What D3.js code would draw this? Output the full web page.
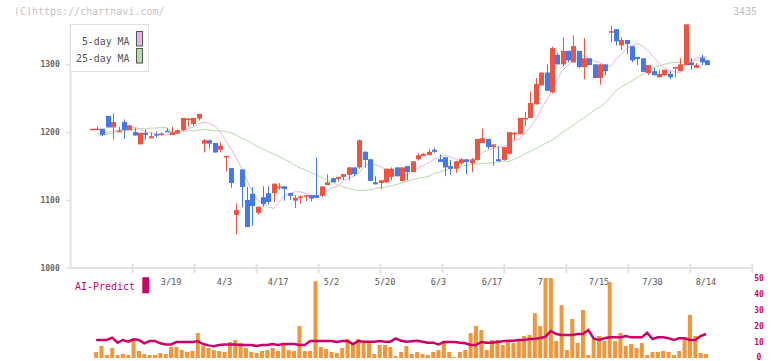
<!DOCTYPE html>
<html>
<head>
<meta charset="utf-8">
<script src="https://cdn.jsdelivr.net/npm/d3@7"></script>
<style>
  body { margin: 0; background: #fff; }
  text { font-family: "DejaVu Sans Mono", "Liberation Mono", monospace; }
</style>
</head>
<body>
<div id="chart"></div>
<script>
// daily candles, 2/26 .. 8/14 (116 trading days)
const openP = [1205,1204,1205,1224,1207,1200,1215,1203,1200,1182,
  1199,1191,1197,1196,1202,1196,1198,1203,1219,1212,
  1220,1183,1188,1184,1174,1163,1147,1078,1145,1100,
  1109,1081,1104,1110,1110,1119,1120,1110,1099,1104,
  1105,1107,1107,1106,1122,1132,1131,1134,1137,1148,
  1148,1171,1160,1126,1125,1126,1134,1148,1128,1150,
  1141,1160,1165,1166,1174,1160,1163,1150,1146,1154,
  1160,1154,1159,1184,1190,1178,1160,1159,1168,1197,
  1197,1219,1221,1241,1269,1288,1259,1314,1300,1320,
  1303,1320,1296,1309,1300,1280,1300,1348,1352,1328,
  1336,1327,1311,1309,1287,1290,1281,1284,1286,1295,
  1290,1299,1303,1295,1310,1306];
const closeP = [1205,1205,1196,1207,1215,1202,1203,1210,1195,1199,
  1196,1194,1195,1198,1201,1200,1203,1221,1220,1221,
  1227,1188,1183,1170,1180,1165,1125,1085,1119,1060,
  1091,1090,1094,1097,1124,1120,1116,1106,1103,1105,
  1107,1102,1103,1120,1126,1126,1134,1138,1148,1138,
  1188,1159,1128,1123,1129,1146,1146,1135,1148,1141,
  1157,1166,1168,1171,1171,1156,1148,1146,1157,1160,
  1156,1160,1190,1191,1178,1182,1157,1178,1200,1199,
  1221,1221,1243,1271,1288,1261,1324,1300,1320,1306,
  1327,1296,1309,1299,1280,1300,1290,1349,1334,1336,
  1330,1306,1308,1289,1299,1284,1286,1292,1281,1296,
  1300,1359,1299,1299,1303,1299];
const highP = [1205,1208,1205,1224,1228,1208,1219,1211,1206,1199,
  1204,1200,1201,1200,1206,1208,1204,1221,1221,1221,
  1227,1190,1189,1184,1185,1165,1147,1095,1145,1119,
  1119,1090,1120,1120,1124,1125,1120,1110,1107,1107,
  1107,1107,1163,1120,1138,1133,1134,1138,1148,1148,
  1189,1172,1160,1135,1129,1146,1148,1148,1148,1150,
  1157,1169,1169,1175,1177,1167,1163,1159,1157,1162,
  1160,1162,1190,1205,1190,1182,1179,1178,1200,1200,
  1221,1230,1260,1280,1288,1300,1326,1317,1340,1320,
  1343,1320,1339,1309,1300,1300,1300,1357,1352,1340,
  1336,1327,1311,1309,1299,1295,1292,1292,1290,1296,
  1309,1359,1309,1302,1314,1306];
const lowP = [1205,1204,1194,1207,1189,1200,1190,1203,1195,1182,
  1189,1191,1192,1195,1201,1196,1197,1202,1208,1209,
  1217,1170,1176,1170,1170,1142,1118,1049,1089,1060,
  1062,1078,1090,1093,1097,1115,1099,1100,1088,1094,
  1098,1098,1103,1104,1122,1126,1127,1129,1129,1135,
  1146,1148,1128,1123,1116,1125,1129,1135,1127,1129,
  1141,1158,1165,1166,1169,1156,1135,1137,1140,1152,
  1138,1141,1158,1184,1175,1150,1157,1158,1167,1188,
  1197,1209,1221,1241,1269,1261,1257,1300,1297,1303,
  1303,1295,1278,1299,1280,1270,1284,1333,1328,1321,
  1315,1303,1299,1289,1284,1284,1281,1283,1278,1281,
  1290,1299,1292,1295,1299,1299];
const ma5 = [null,1198,1199,1199,1202,1203,1205,1206,1207,1205,
  1201,1199,1197,1196,1196,1197,1199,1202,1205,1208,
  1212,1215,1213,1209,1200,1188,1176,1162,1147,1129,
  1112,1100,1094,1090,1087,1097,1106,1110,1112,1112,
  1110,1107,1106,1109,1114,1118,1120,1128,1132,1135,
  1140,1150,1154,1152,1149,1145,1140,1135,1136,1137,
  1143,1147,1151,1155,1160,1163,1166,1163,1160,1157,
  1157,1157,1162,1170,1173,1176,1178,1179,1182,1188,
  1190,1199,1208,1219,1234,1247,1261,1278,1291,1299,
  1305,1311,1313,1309,1305,1302,1299,1297,1308,1315,
  1323,1328,1331,1327,1320,1311,1302,1295,1291,1289,
  1288,1299,1305,1309,1311,1311];
const ma25 = [null,1194,1196,1197,1199,1202,1203,1203,1204,1205,
  1205,1206,1206,1207,1207,1200,1200,1201,1202,1202,
  1203,1204,1203,1202,1202,1201,1199,1196,1191,1188,
  1183,1179,1175,1171,1168,1164,1160,1156,1151,1147,
  1144,1140,1137,1133,1129,1126,1122,1119,1117,1115,
  1114,1114,1115,1117,1118,1119,1121,1123,1125,1128,
  1130,1132,1133,1135,1139,1141,1144,1146,1148,1150,
  1151,1152,1153,1154,1154,1155,1156,1157,1157,1160,
  1164,1168,1172,1176,1180,1184,1188,1194,1200,1205,
  1210,1216,1221,1227,1233,1237,1243,1252,1261,1267,
  1271,1276,1281,1286,1290,1294,1298,1300,1302,1303,
  1303,1305,1306,1306,1306,1306];
const volume = [null,3.75,7.5,1.9,6.25,1.9,2.5,1.9,11.9,4.4,
  2.5,1.9,1.9,3.1,2.5,6.9,6.9,5,3.75,4.4,
  15.6,7.5,6.25,5,4.4,3.75,10,11.25,9.4,6.25,
  3.75,3.1,4.4,5,6.25,4.4,9.4,5,4.4,20,
  4.4,4.4,48,6.9,5.6,3.75,3.1,6.25,11.9,9.4,
  11.9,9.4,9.4,2.5,8.1,8.1,6.9,1.25,3.75,7.5,
  2.5,3.75,2.5,1.9,3.75,5,10.6,3.75,0.6,3.75,
  5,15.6,20,17.5,5,11.25,11.25,8.1,11.25,9.4,
  11.25,13.75,14.4,28,20,50,50,10.6,33,5,
  24.4,9.4,30,1.9,11.9,13.75,10.6,47.5,10.6,15.6,
  7.5,8.75,6.25,9.4,1.9,3.75,3.75,4.4,3.75,1.9,
  4.4,11.9,27,13.75,3.1,2.5];
const aiPredict = [null,11.25,11.25,11.25,12.7,9.6,11.25,10.2,11.7,11.25,
  9.2,10.6,10.6,9.2,8.5,8.5,10,10,10,10,
  10.4,8.75,7.9,7.3,8.1,8.5,8.5,8.5,8.1,8.1,
  8.1,7.5,8.1,8.1,8.75,8.1,8.75,8.75,8.75,8.1,
  8.1,10.6,10.6,10.6,10.6,10.6,10,10.6,10.6,8.75,
  10.6,10.2,10.2,10.2,10.6,10.2,10.2,12.3,10.8,10.2,
  10.5,10.8,10.2,9.6,9.6,8.5,10,10,10,9.6,
  9.2,8.1,8.1,10,9.6,9.6,10,10.4,10.8,10.8,
  11.25,11.25,11.9,12,12.5,13.3,16.9,15,14.4,14.4,
  14.4,15,15,17.5,12.3,11.25,12.3,12.9,12.9,12.9,
  13.75,12.9,12.9,12.9,15.8,11.9,12.9,12.9,12.3,11.25,
  12.3,12.3,11.25,11.25,13.75,15];
const dateLabels = ["3/19","4/3","4/17","5/2","5/20","6/3","6/17","7/1","7/15","7/30","8/14"];
const dateIndex = [15,25,35,45,55,65,75,85,95,105,115];
const priceTicks = [1000,1100,1200,1300];
const predTicks = [0,10,20,30,40,50];

class CandleVis {

    constructor(parentElement) {
        this.parentElement = parentElement;
        this.initVis();
    }

    initVis() {
        let vis = this;
        vis.width = 772;
        vis.height = 361;

        vis.svg = d3.select("#" + vis.parentElement).append("svg")
            .attr("width", vis.width)
            .attr("height", vis.height);

        vis.colors = { up: "#f05340", down: "#4479ec", ma5: "#e8b2e8", ma25: "#b5dca5",
                       vol: "#f0963c", ai: "#cc0066", axis: "#e2e2e2" };

        // scales
        vis.x = d3.scaleLinear().domain([0, 115]).range([91.8, 707]);
        vis.y = d3.scaleLinear().domain([1000, 1300]).range([267.7, 64.4]);
        vis.yv = d3.scaleLinear().domain([0, 50]).range([358, 278]);
        vis.tickX = d3.scaleLinear().domain([0, 11]).range([70.7, 752.3]);

        // header
        vis.svg.append("text").attr("x", 14).attr("y", 15)
            .attr("font-size", 10).attr("fill", "#c4c4c4")
            .text("(C)https://chartnavi.com/");
        vis.svg.append("text").attr("x", 757).attr("y", 15)
            .attr("text-anchor", "end").attr("font-size", 10).attr("fill", "#c0c0c0")
            .text("3435");

        // axis lines
        vis.svg.append("line").attr("x1", 70.7).attr("x2", 70.7).attr("y1", 24).attr("y2", 268)
            .attr("stroke", vis.colors.axis).attr("stroke-width", 2);
        vis.svg.append("line").attr("x1", 70).attr("x2", 752.5).attr("y1", 268).attr("y2", 268)
            .attr("stroke", vis.colors.axis).attr("stroke-width", 2);
        vis.svg.append("g").selectAll("line")
            .data(d3.range(1, 12))
            .join("line")
            .attr("x1", d => vis.tickX(d)).attr("x2", d => vis.tickX(d))
            .attr("y1", 264).attr("y2", 273)
            .attr("stroke", vis.colors.axis).attr("stroke-width", 2);

        vis.yAxis = d3.axisLeft(vis.y).tickValues(priceTicks).tickFormat(d3.format("d"))
            .tickSize(5).tickPadding(6);
        vis.yAxisGroup = vis.svg.append("g")
            .attr("class", "axis y-axis")
            .attr("transform", "translate(70.7,0)")
            .call(vis.yAxis);
        vis.yAxisGroup.select(".domain").remove();
        vis.yAxisGroup.selectAll("line").attr("stroke", vis.colors.axis).attr("stroke-width", 1.5);
        vis.yAxisGroup.selectAll("text")
            .attr("font-family", "DejaVu Sans Mono").attr("font-size", 8)
            .attr("font-weight", "bold").attr("fill", "#666");

        // date labels
        vis.svg.append("g").selectAll("text")
            .data(dateLabels)
            .join("text")
            .attr("x", (d, i) => vis.x(dateIndex[i]) - 1)
            .attr("y", 285)
            .attr("text-anchor", "middle")
            .attr("font-size", 8.5).attr("fill", "#555")
            .text(d => d);

        // right axis for AI predict
        vis.svg.append("g").selectAll("text")
            .data(predTicks)
            .join("text")
            .attr("x", 759).attr("y", d => Math.min(vis.yv(d) + 3, 359.5))
            .attr("text-anchor", "middle")
            .attr("font-size", 8).attr("font-weight", "bold").attr("fill", vis.colors.ai)
            .text(d => d);

        // legend
        vis.svg.append("rect").attr("x", 70.5).attr("y", 24.5).attr("width", 78).attr("height", 47)
            .attr("fill", "#fff").attr("stroke", "#e0e0e0");
        [["5-day MA", 44.5, vis.colors.ma5], ["25-day MA", 61.5, vis.colors.ma25]].forEach((l, i) => {
            vis.svg.append("text").attr("x", 129.5).attr("y", l[1])
                .attr("text-anchor", "end").attr("font-size", 11).attr("fill", "#555")
                .attr("textLength", l[0].length * 5.95).attr("lengthAdjust", "spacingAndGlyphs")
                .text(l[0]);
            vis.svg.append("rect").attr("x", 136.5).attr("y", 31.5 + i * 17).attr("width", 6).attr("height", 14.5)
                .attr("fill", l[2]).attr("stroke", "#555");
        });

        vis.svg.append("text").attr("x", 75).attr("y", 289.5)
            .attr("font-size", 11).attr("fill", vis.colors.ai)
            .attr("textLength", 60).attr("lengthAdjust", "spacingAndGlyphs")
            .text("AI-Predict");
        vis.svg.append("rect").attr("x", 142.3).attr("y", 277.3).attr("width", 6.7).attr("height", 16)
            .attr("fill", vis.colors.ai);

        vis.wrangleData();
    }

    wrangleData() {
        let vis = this;
        vis.candles = openP.map((o, i) => ({ i: i, o: o, c: closeP[i], h: highP[i], l: lowP[i] }));
        vis.updateVis();
    }

    updateVis() {
        let vis = this;

        // volume bars
        vis.svg.append("g").selectAll("rect")
            .data(volume.map((v, i) => ({ i: i, v: v })).filter(d => d.v !== null))
            .join("rect")
            .attr("x", d => vis.x(d.i) - 3)
            .attr("y", d => vis.yv(d.v))
            .attr("width", 4)
            .attr("height", d => vis.yv(0) - vis.yv(d.v))
            .attr("fill", vis.colors.vol);

        // AI predict line
        let aiLine = d3.line()
            .defined(d => d !== null)
            .x((d, i) => vis.x(i) - 1)
            .y(d => vis.yv(d));
        vis.svg.append("path").datum(aiPredict)
            .attr("d", aiLine)
            .attr("fill", "none").attr("stroke", vis.colors.ai).attr("stroke-width", 2.5);

        // moving averages
        let maLine = d3.line()
            .defined(d => d !== null)
            .x((d, i) => vis.x(i))
            .y(d => vis.y(d));
        vis.svg.append("path").datum(ma25)
            .attr("d", maLine)
            .attr("fill", "none").attr("stroke", vis.colors.ma25).attr("stroke-width", 1);
        vis.svg.append("path").datum(ma5)
            .attr("d", maLine)
            .attr("fill", "none").attr("stroke", vis.colors.ma5).attr("stroke-width", 1);

        // candles
        let g = vis.svg.append("g").attr("class", "candles");
        let candle = g.selectAll(".candle")
            .data(vis.candles)
            .join("g")
            .attr("class", "candle");

        candle.append("line")
            .attr("x1", d => Math.round(vis.x(d.i)) + 0.5)
            .attr("x2", d => Math.round(vis.x(d.i)) + 0.5)
            .attr("y1", d => vis.y(d.h))
            .attr("y2", d => vis.y(d.l))
            .attr("stroke", d => d.c >= d.o ? vis.colors.up : vis.colors.down)
            .attr("stroke-width", 1);

        candle.append("rect")
            .attr("x", d => Math.round(vis.x(d.i)) - 2)
            .attr("y", d => vis.y(Math.max(d.o, d.c)))
            .attr("width", 5)
            .attr("height", d => Math.max(1.5, Math.abs(vis.y(d.o) - vis.y(d.c))))
            .attr("fill", d => d.c >= d.o ? vis.colors.up : vis.colors.down);
    }
}

new CandleVis("chart");
</script>
</body>
</html>
